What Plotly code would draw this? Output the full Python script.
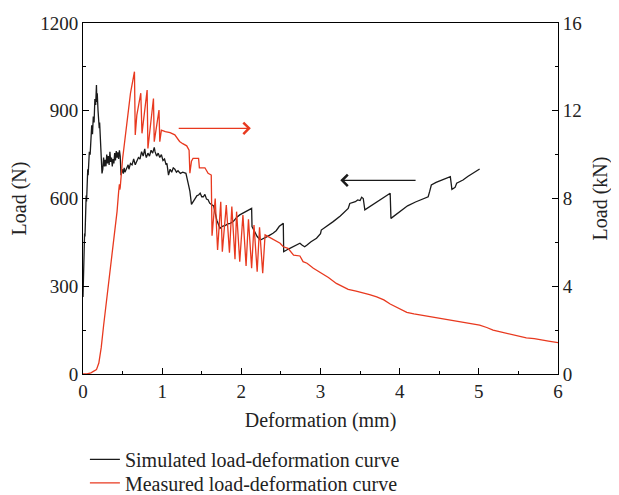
import plotly.graph_objects as go

# Simulated load-deformation curve (deformation mm, load N)
sim_x = [0.000, 0.005, 0.010, 0.015, 0.020, 0.025, 0.030, 0.035, 0.040, 0.045, 0.050, 0.055,
         0.060, 0.065, 0.070, 0.075, 0.080, 0.090, 0.100, 0.105, 0.110, 0.120, 0.130, 0.140,
         0.150, 0.160, 0.170, 0.175, 0.180, 0.190, 0.200, 0.205, 0.210, 0.220, 0.230, 0.240,
         0.250, 0.260, 0.270, 0.280, 0.290, 0.300, 0.310, 0.320, 0.330, 0.340, 0.350, 0.360,
         0.370, 0.380, 0.390, 0.400, 0.410, 0.420, 0.430, 0.440, 0.450, 0.460, 0.470, 0.480,
         0.490, 0.500, 0.510, 0.520, 0.530, 0.550, 0.570, 0.580, 0.600, 0.620, 0.640, 0.660,
         0.680, 0.700, 0.720, 0.740, 0.760, 0.780, 0.790, 0.800, 0.820, 0.840, 0.860, 0.880,
         0.900, 0.910, 0.930, 0.950, 0.970, 0.990, 1.010, 1.030, 1.050, 1.060, 1.080, 1.100,
         1.120, 1.140, 1.160, 1.180, 1.200, 1.230, 1.260, 1.300, 1.330, 1.350, 1.370, 1.390,
         1.420, 1.440, 1.460, 1.480, 1.500, 1.520, 1.540, 1.560, 1.580, 1.600, 1.630, 1.650,
         1.690, 1.710, 1.730, 1.760, 1.800, 1.830, 1.860, 1.900, 1.940, 1.980, 2.020, 2.060,
         2.100, 2.130, 2.135, 2.170, 2.200, 2.240, 2.270, 2.320, 2.360, 2.400, 2.440, 2.480,
         2.530, 2.535, 2.600, 2.660, 2.700, 2.740, 2.770, 2.800, 2.830, 2.880, 2.950, 3.000,
         3.010, 3.080, 3.160, 3.250, 3.300, 3.350, 3.370, 3.400, 3.440, 3.470, 3.500, 3.520,
         3.540, 3.560, 3.600, 3.650, 3.700, 3.750, 3.800, 3.880, 3.890, 3.950, 4.000, 4.050,
         4.100, 4.200, 4.300, 4.360, 4.380, 4.400, 4.460, 4.520, 4.580, 4.640, 4.660, 4.700,
         4.720, 4.760, 4.800, 4.860, 4.920, 4.960, 5.010]
sim_load = [263, 330, 420, 390, 480, 470, 560, 540, 610, 590, 640, 620,
            700, 680, 740, 730, 760, 750, 830, 810, 850, 820, 880, 860,
            940, 920, 988, 930, 960, 900, 870, 840, 860, 780, 720, 686,
            700, 740, 710, 732, 710, 750, 720, 745, 715, 760, 725, 740,
            710, 735, 720, 755, 730, 762, 740, 758, 735, 765, 745, 680,
            690, 700, 685, 705, 690, 700, 715, 700, 720, 715, 735, 715,
            725, 740, 735, 760, 745, 770, 750, 740, 755, 745, 765, 755,
            775, 760, 745, 755, 740, 750, 730, 735, 715, 720, 680, 700,
            690, 705, 700, 690, 695, 686, 690, 686, 650, 625, 580, 590,
            600, 610, 612, 618, 606, 606, 614, 598, 596, 584, 578, 575,
            526, 510, 498, 505, 508, 513, 515, 522, 535, 544, 550, 558,
            562, 566, 504, 485, 470, 458, 463, 469, 475, 481, 490, 505,
            515, 418, 428, 435, 440, 447, 440, 435, 441, 452, 464, 480,
            492, 505, 521, 540, 552, 566, 583, 585, 589, 595, 593, 604,
            600, 561, 568, 578, 587, 595, 605, 618, 532, 545, 555, 566,
            575, 588, 598, 606, 625, 646, 655, 662, 669, 675, 631, 638,
            652, 657, 663, 675, 685, 692, 701]

# Measured load-deformation curve (deformation mm, load kN)
meas_x = [0.00, 0.05, 0.10, 0.13, 0.17, 0.20, 0.23, 0.26, 0.30, 0.35, 0.40, 0.43,
          0.45, 0.46, 0.465, 0.47, 0.50, 0.55, 0.60, 0.65, 0.66, 0.68, 0.73, 0.745,
          0.81, 0.82, 0.89, 0.90, 0.96, 0.97, 0.99, 1.04, 1.10, 1.16, 1.22, 1.26,
          1.31, 1.34, 1.35, 1.37, 1.39, 1.46, 1.47, 1.54, 1.56, 1.58, 1.62, 1.63,
          1.67, 1.70, 1.74, 1.76, 1.81, 1.85, 1.88, 1.92, 1.94, 1.98, 2.02, 2.06,
          2.09, 2.13, 2.16, 2.20, 2.23, 2.27, 2.30, 2.34, 2.42, 2.49, 2.53, 2.59,
          2.66, 2.74, 2.78, 2.83, 2.91, 3.00, 3.10, 3.20, 3.28, 3.35, 3.45, 3.54,
          3.62, 3.71, 3.80, 3.88, 3.98, 4.09, 4.18, 4.26, 4.40, 4.51, 4.64, 4.76,
          4.90, 5.01, 5.10, 5.18, 5.26, 5.35, 5.48, 5.60, 5.70, 5.77, 5.88, 6.00]
meas_load = [0.00, 0.00, 0.05, 0.10, 0.20, 0.50, 1.20, 2.20, 3.40, 4.90, 6.40, 7.40,
             8.30, 8.65, 8.40, 8.50, 9.80, 11.30, 12.80, 13.78, 10.90, 11.80, 12.80, 10.97,
             12.94, 10.28, 12.56, 10.59, 12.03, 10.59, 11.12, 11.05, 11.00, 10.90, 10.60, 10.50,
             10.40, 10.20, 9.15, 9.70, 9.83, 9.83, 9.40, 9.40, 9.30, 9.15, 9.07, 6.30,
             8.00, 5.65, 7.85, 5.57, 7.70, 5.53, 7.63, 5.23, 7.40, 5.12, 7.25, 4.92,
             7.05, 4.82, 6.79, 4.66, 6.69, 4.59, 6.34, 6.26, 6.10, 5.96, 5.80, 5.73,
             5.42, 5.38, 5.12, 5.05, 4.82, 4.62, 4.40, 4.13, 3.98, 3.86, 3.78, 3.71,
             3.62, 3.52, 3.38, 3.19, 3.00, 2.81, 2.74, 2.69, 2.62, 2.54, 2.45, 2.36,
             2.30, 2.23, 2.12, 2.00, 1.93, 1.85, 1.75, 1.65, 1.61, 1.58, 1.50, 1.43]

x_ticks = [0, 1, 2, 3, 4, 5, 6]
left_ticks = [0, 300, 600, 900, 1200]
right_ticks = [0, 4, 8, 12, 16]

BLACK = "#1a1a1a"
RED = "#e8391f"
TXT = "#222222"
FONT = "Liberation Serif, Times New Roman, serif"

fig = go.Figure()
fig.add_trace(go.Scatter(x=sim_x, y=sim_load, mode="lines", name="Simulated load-deformation curve",
                         line=dict(color=BLACK, width=1.3), yaxis="y", legend="legend"))
fig.add_trace(go.Scatter(x=meas_x, y=meas_load, mode="lines", name="Measured load-deformation curve",
                         line=dict(color=RED, width=1.3), yaxis="y2", legend="legend2"))

axis_common = dict(showgrid=False, zeroline=False, showline=True, linecolor="black", linewidth=1,
                   ticks="inside", ticklen=6, tickwidth=1, tickcolor="black", automargin=False,
                   tickfont=dict(family=FONT, size=19, color=TXT))

legend_common = dict(xanchor="left", yanchor="middle", orientation="v",
                     bgcolor="rgba(0,0,0,0)", font=dict(family=FONT, size=20, color=TXT))

# The page body adds an 8px offset; the figure is sized so the plot area lands
# where the reference's does.
fig.update_layout(
    width=611, height=487,
    margin=dict(l=75, r=61, t=15, b=121, autoexpand=False),
    paper_bgcolor="white", plot_bgcolor="white",
    font=dict(family=FONT, size=19, color=TXT),
    xaxis=dict(range=[0, 6], tickvals=x_ticks, mirror=True,
               minor=dict(dtick=0.5, ticks="inside", ticklen=3, tickcolor="black"),
               title=dict(text="Deformation (mm)", standoff=12, font=dict(family=FONT, size=20)),
               **axis_common),
    yaxis=dict(range=[0, 1200], tickvals=left_ticks,
               minor=dict(dtick=150, ticks="inside", ticklen=3, tickcolor="black"),
               title=dict(text="Load (N)", standoff=11, font=dict(family=FONT, size=20)),
               **axis_common),
    yaxis2=dict(range=[0, 16], tickvals=right_ticks, overlaying="y", side="right",
                minor=dict(dtick=2, ticks="inside", ticklen=3, tickcolor="black"),
                title=dict(text="Load (kN)", standoff=12, font=dict(family=FONT, size=20)),
                **axis_common),
    legend=dict(x=0.004, y=-0.243, **legend_common),
    legend2=dict(x=0.004, y=-0.31, **legend_common),
    showlegend=True,
)

# Direction arrows
fig.add_annotation(x=2.12, y=840, ax=1.19, ay=840, xref="x", yref="y", axref="x", ayref="y",
                   showarrow=True, arrowhead=4, arrowsize=1.7, arrowwidth=1.3, arrowcolor=RED, text="")
fig.add_annotation(x=3.25, y=662, ax=4.22, ay=662, xref="x", yref="y", axref="x", ayref="y",
                   showarrow=True, arrowhead=4, arrowsize=1.7, arrowwidth=1.3, arrowcolor=BLACK, text="")

fig.write_html("out.html")
